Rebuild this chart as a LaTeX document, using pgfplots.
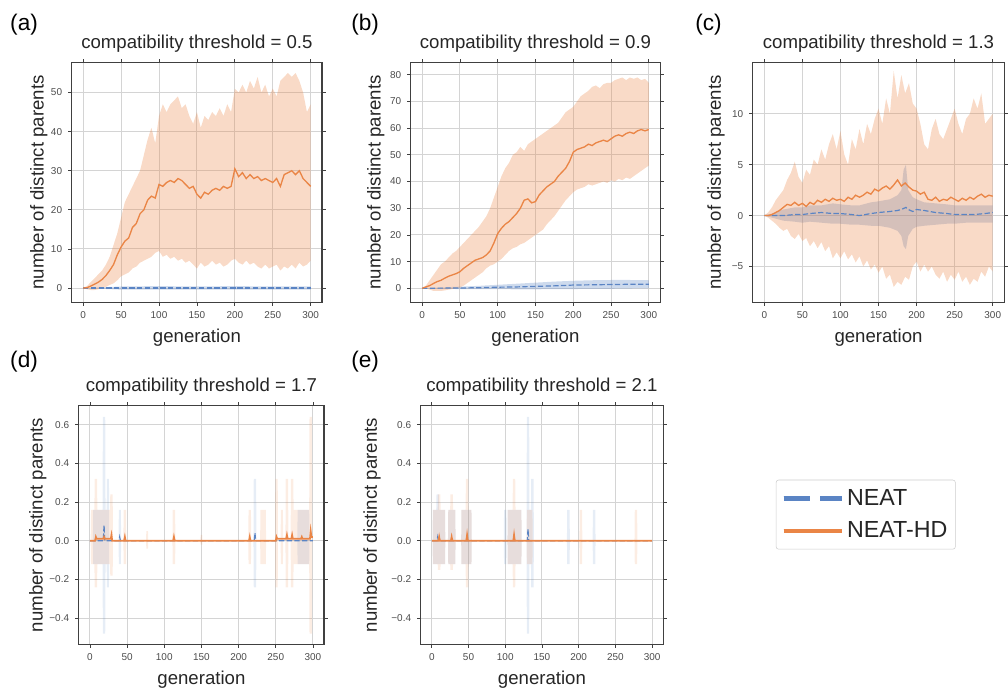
\documentclass[border=0pt]{standalone}
\usepackage{fontspec}
\setmainfont{Liberation Sans}
\usepackage{pgfplots}
\pgfplotsset{compat=1.18}
\usepackage{pgfplotstable}
\usepgfplotslibrary{fillbetween}

\definecolor{cB}{HTML}{5A84C4}
\definecolor{cO}{HTML}{EA8546}

% ---- panel (a): threshold 0.5 ----
\pgfplotstableread{
x m hi lo
0 0 0 0
5 0.1 0.5 -0.3
10 0.5 1.5 -0.5
15 1 2.5 -0.5
20 1.5 3.5 -0.3
25 2.2 4.5 0
30 3.2 6 0.3
35 4.5 8 0.8
40 6 11 1.2
45 8.5 14 2
50 10.5 18 3
55 12 22 3.5
60 12.8 24 4
65 15.5 26 5
70 16.5 28 5.5
75 19 30 6.5
80 20 34 7
85 22.5 38 7.5
90 23.5 41 8
95 23 37 9
100 26.5 44 9.5
105 26 47 8
110 27 45 8.5
115 27.5 47 7.5
120 27 48 8
125 28 49 7
130 27.5 46 7.5
135 26.5 47 6.5
140 25.5 44 7
145 26 42 6
150 24 45 5
155 23 41 6.5
160 24.5 44 5.5
165 24 43 6
170 25 45 7
175 25.5 44 6
180 25 46 6.5
185 26 44 5.5
190 25.5 47 6
195 26 45 7
200 30.5 51 7.5
205 28.5 50 6.5
210 29.5 52 6
215 28 50 7
220 29 53 6
225 28 51 6.5
230 28.5 54 5.5
235 27.5 50 5
240 28 52 6
245 27.5 49 5
250 27 51 5.5
255 28 49 6
260 26 53 4.5
265 29 54 5.5
270 29.5 55 5
275 30 54 6
280 29 55 5
285 30 53 6.5
290 28 50 5.5
295 27 45 6
300 26 47 7
}\aO
\pgfplotstableread{
x m hi lo
0 0 0 0
50 0 0.4 -0.4
100 0 0.5 -0.4
150 0 0.4 -0.4
200 0 0.5 -0.4
250 0 0.4 -0.4
300 0 0.4 -0.4
}\aB

% ---- panel (b): threshold 0.9 ----
\pgfplotstableread{
x m hi lo
0 0 0 0
5 0.5 1 0
10 1 3 -0.5
15 1.8 5 -1
20 2.5 7 -1
25 3 9 -1
30 3.8 10 -0.8
35 4.5 11.5 -0.5
40 5 13 -0.3
45 5.5 14 0
50 6.2 15.5 0.3
55 7.5 17 1
60 8.5 18.5 2
65 9.5 20 3
70 10.5 21.5 4
75 11 23 5
80 11.5 25 6
85 12.5 27 7.5
90 14 30 8.5
95 17 34 9
100 20.5 38 10
105 22.5 42 11
110 24 45 12.5
115 25 47 14
120 26.5 50 15
125 28 51 15.5
130 30 53 16.5
135 33 51.5 17
140 33.5 54 18
145 32 55 19
150 32.5 56 20
155 35 57 21
160 36.5 58 22
165 38 59 24
170 39 60 25.5
175 40 61 27
180 42 62 29
185 43.5 64 31
190 45 66 33
195 47.5 67 34.5
200 51 68 36
205 52 70 37
210 52.5 72 37.5
215 53 73 38
220 54 74 39
225 53.5 75.5 38.5
230 54.5 76 39
235 55 75 39.5
240 55.5 76.5 40
245 55 77 39.5
250 56 77 40.5
255 57 78 40
260 57.5 78.5 41
265 57 79 40.5
270 58 78 41.5
275 58.5 79 41
280 58 78.5 42
285 59 79 43
290 59.5 78 44
295 59 78.5 45
300 59.5 77 46
}\bO
\pgfplotstableread{
x m hi lo
0 0 0 0
25 0.05 0.3 -0.2
50 0.1 0.6 -0.3
75 0.2 0.9 -0.3
100 0.4 1.3 -0.3
125 0.5 1.7 -0.4
150 0.7 2.1 -0.4
175 0.9 2.5 -0.3
200 1.2 2.8 -0.3
225 1.3 3 -0.2
250 1.4 3.1 -0.2
275 1.5 3.1 -0.1
300 1.5 3 0
}\bB

% ---- panel (c): threshold 1.3 ----
\pgfplotstableread{
x m hi lo
0 0 0 0
5 0 0.3 -0.2
10 0.1 0.8 -0.5
15 0.3 1.5 -0.8
20 0.5 2 -1.2
25 0.8 2.5 -1.5
30 1.1 3.5 -1.3
35 1.0 4.2 -2
40 1.3 5.3 -2.3
45 1.0 3.8 -1.8
50 1.2 3.2 -2.5
55 0.9 4.5 -2.2
60 1.3 4 -3
65 1.1 5.5 -2.5
70 1.5 5 -3.2
75 1.3 6.5 -2.6
80 1.6 5.5 -3.5
85 1.4 7 -3
90 1.7 8 -4.2
95 1.5 6.5 -3.6
100 1.6 8.3 -4.2
105 1.4 6 -3.5
110 1.8 5 -4.3
115 1.6 7.5 -3.8
120 2.0 6.5 -4.6
125 1.8 8.5 -4
130 2.0 7 -5
135 2.3 9 -4.4
140 2.1 8 -5.3
145 2.6 9.5 -4.8
150 2.4 10.5 -5.6
155 2.7 9 -5
160 2.9 11.5 -6.2
165 2.6 10 -5.8
170 3.0 14.2 -7
175 3.5 11.5 -6.5
180 2.9 13.8 -6.8
185 3.2 12 -6
190 2.8 13 -6.3
195 2.5 11 -5
200 2.4 10.5 -4.5
205 2.1 9 -5.5
210 2.3 7 -4.8
215 1.6 6.5 -5.5
220 1.5 8.5 -5
225 1.8 9.5 -5.8
230 1.4 8 -6.2
235 1.6 7.5 -5.5
240 1.5 8.5 -6.5
245 1.8 9.5 -5.8
250 1.6 10.5 -6.3
255 1.4 9 -5.5
260 1.7 8 -6.5
265 1.5 9.5 -6
270 1.8 10 -6.8
275 1.6 11.5 -6.2
280 1.9 10.5 -6.5
285 2.1 12 -5.5
290 1.8 9 -6
295 2.0 9.5 -5
300 1.9 10 -5.5
}\cO
\pgfplotstableread{
x m hi lo
0 0 0 0
10 0 0.2 -0.2
25 0 0.6 -0.5
40 0.1 0.8 -0.6
50 0.1 0.8 -0.7
60 0.2 1.0 -0.6
75 0.3 1.0 -0.7
90 0.2 1.2 -0.8
100 0.2 1.1 -0.8
115 0.1 1.0 -0.9
125 0 1.0 -0.9
140 0.2 1.3 -1.0
150 0.3 1.4 -1.0
165 0.4 1.6 -1.2
175 0.5 2.0 -1.5
180 0.6 2.5 -2.0
183 0.7 4.5 -3.0
186 0.8 5.0 -3.3
189 0.6 2.5 -2.0
195 0.4 1.8 -1.3
200 0.6 1.6 -1.1
210 0.5 1.3 -1.0
225 0.3 1.2 -0.9
240 0.2 1.1 -0.8
250 0.1 1.0 -0.8
265 0.1 1.0 -0.7
275 0.1 1.0 -0.7
290 0.2 1.0 -0.7
300 0.3 1.0 -0.7
}\cB

% ---- panel (d): threshold 1.7 ----
\pgfplotstableread{
x hi lo
0 0 0
1 0 0
1.5 0.16 -0.12
6 0.16 -0.12
6.4 0.32 -0.24
9.6 0.32 -0.24
10 0.16 -0.12
27 0.16 -0.12
27.4 0.24 -0.18
30.6 0.24 -0.18
31 0 0
45 0 0
45.4 0.16 -0.12
48.6 0.16 -0.12
49 0 0
75.5 0 0
75.9 0.05 -0.04
78.1 0.05 -0.04
78.5 0 0
111 0 0
111.4 0.16 -0.12
114.6 0.16 -0.12
115 0 0
148.5 0 0
148.9 0.03 -0.02
151.1 0.03 -0.02
151.5 0 0
213 0 0
213.4 0.16 -0.12
216.6 0.16 -0.12
217 0 0
229 0 0
229.4 0.16 -0.12
236.6 0.16 -0.12
237 0 0
249 0 0
249.4 0.32 -0.24
252.6 0.32 -0.24
253 0 0
256.5 0 0
256.9 0.16 -0.12
259.6 0.16 -0.12
260 0 0
263 0 0
263.4 0.32 -0.24
266.6 0.32 -0.24
267 0 0
270 0 0
270.4 0.32 -0.24
273.6 0.32 -0.24
274 0.16 -0.12
295 0.16 -0.12
295.4 0.64 -0.48
298.6 0.64 -0.48
299 0 0
300 0 0
}\dOb
\pgfplotstableread{
x hi lo
0 0 0
4 0 0
4.4 0.16 -0.12
17 0.16 -0.12
17.4 0.64 -0.48
20.6 0.64 -0.48
21 0.16 -0.12
22.5 0.16 -0.12
22.9 0.32 -0.24
25.6 0.32 -0.24
26 0 0
38.5 0 0
38.9 0.16 -0.12
41.6 0.16 -0.12
42 0 0
220 0 0
220.4 0.32 -0.24
223.6 0.32 -0.24
224 0 0
279 0 0
279.4 0.16 -0.12
295 0.16 -0.12
295.4 0 0
300 0 0
}\dBb
\pgfplotstableread{
x m
0 0
7 0
8 0.02
9 0.01
18 0.01
19 0.02
20 0.01
28 0.01
29 0.03
30 0
46 0
47 0.02
48 0
112 0
113 0.02
114 0
214 0
215 0.02
216 0
250 0
251 0.02
252 0.01
264 0.01
265 0.03
266 0.01
271 0.01
272 0.03
273 0.01
284 0.01
285 0.02
286 0.01
296 0.01
297 0.05
298 0.02
300 0.02
}\dOm
\pgfplotstableread{
x m
0 0
18 0
19 0.08
20 0
39 0
40 0.02
41 0
221 0
222 0.04
223 0
300 0
}\dBm

% ---- panel (e): threshold 2.1 ----
\pgfplotstableread{
x hi lo
0 0 0
1 0 0
1.4 0.16 -0.12
8 0.16 -0.12
8.4 0.24 -0.15
11.6 0.24 -0.15
12 0.16 -0.12
18 0.16 -0.12
18.4 0 0
22 0 0
22.4 0.16 -0.12
25 0.16 -0.12
25.4 0.24 -0.15
28.6 0.24 -0.15
29 0.16 -0.12
32 0.16 -0.12
32.4 0 0
40 0 0
40.4 0.16 -0.12
46 0.16 -0.12
46.4 0.32 -0.24
49.6 0.32 -0.24
50 0.16 -0.12
54 0.16 -0.12
54.4 0 0
103 0 0
103.4 0.16 -0.12
110 0.16 -0.12
110.4 0.32 -0.24
113.6 0.32 -0.24
114 0.16 -0.12
122 0.16 -0.12
122.4 0 0
129 0 0
129.4 0.16 -0.12
137 0.16 -0.12
137.4 0 0
201 0 0
201.4 0.16 -0.12
204.6 0.16 -0.12
205 0 0
276 0 0
276.4 0.16 -0.12
279.6 0.16 -0.12
280 0 0
300 0 0
}\eOb
\pgfplotstableread{
x hi lo
0 0 0
1 0 0
1.4 0.16 -0.12
6 0.16 -0.12
6.4 0.24 -0.12
9.6 0.24 -0.12
10 0.16 -0.12
18 0.16 -0.12
18.4 0 0
22 0 0
22.4 0.16 -0.12
32 0.16 -0.12
32.4 0 0
40 0 0
40.4 0.16 -0.12
54 0.16 -0.12
54.4 0 0
98 0 0
98.4 0.16 -0.12
101.6 0.16 -0.12
102 0 0
103 0 0
103.4 0.16 -0.12
122 0.16 -0.12
122.4 0 0
129 0 0
129.4 0.64 -0.48
132.6 0.64 -0.48
133 0.16 -0.12
135 0.16 -0.12
135.4 0.32 -0.24
138.6 0.32 -0.24
139 0 0
184 0 0
184.4 0.16 -0.12
187.6 0.16 -0.12
188 0 0
219 0 0
219.4 0.16 -0.12
222.6 0.16 -0.12
223 0 0
300 0 0
}\eBb
\pgfplotstableread{
x m
0 0
9 0
10 0.02
11 0
26 0
27 0.02
28 0
47 0
48 0.03
49 0
111 0
112 0.03
113 0
300 0
}\eOm
\pgfplotstableread{
x m
0 0
7 0
8 0.02
9 0
130 0
131 0.06
132 0
300 0
}\eBm

\pgfplotsset{
  panel/.style={
    scale only axis,
    anchor=north west,
    xmin=-15, xmax=315,
    xtick={0,50,...,300},
    xticklabels={0,50,100,150,200,250,300},
    grid=major,
    major grid style={draw=black!17, line width=0.7pt},
    axis line style={draw=black!75, line width=0.9pt},
    tick align=outside,
    major tick length=2.6pt,
    tick style={draw=black!75, line width=0.6pt},
    ticklabel style={font=\fontsize{7.5}{9}\selectfont, text=black!70},
    xticklabel style={anchor=base, yshift=-10pt},
    yticklabel style={anchor=east, inner sep=0pt, xshift=-4.5pt},
    title style={at={(0.5,1)}, anchor=base, yshift=5pt,
      font=\fontsize{14}{16}\selectfont, text=black!85},
    xlabel={generation},
    ylabel={number of distinct parents},
    label style={font=\fontsize{14}{16}\selectfont, text=black!85},
    xlabel style={at={(axis description cs:0.5,0)}, anchor=base, yshift=-30pt},
  },
  band/.style={draw=none, fill=#1, fill opacity=0.3},
  sband/.style={draw=none, fill=#1, fill opacity=0.15},
  mO/.style={cO, line width=1pt},
  mB/.style={cB, line width=0.9pt, dash pattern=on 4pt off 1.8pt},
}

\begin{document}
\begin{tikzpicture}
\path (0,0) rectangle (756pt,-519.75pt);

\node[anchor=west, inner sep=0pt, font=\fontsize{17}{20}\selectfont] at (7.5pt,-18.75pt) {(a)};
\node[anchor=west, inner sep=0pt, font=\fontsize{17}{20}\selectfont] at (264pt,-18.75pt) {(b)};
\node[anchor=west, inner sep=0pt, font=\fontsize{17}{20}\selectfont] at (522.75pt,-18.75pt) {(c)};
\node[anchor=west, inner sep=0pt, font=\fontsize{17}{20}\selectfont] at (7.5pt,-272.25pt) {(d)};
\node[anchor=west, inner sep=0pt, font=\fontsize{17}{20}\selectfont] at (264pt,-272.25pt) {(e)};

% (a)
\begin{axis}[panel, at={(54pt,-47.25pt)}, width=188.25pt, height=180pt,
  ymin=-3.6, ymax=57.6, ytick={0,10,...,50},
  yticklabels={0,10,20,30,40,50},
  title={compatibility threshold = 0.5},
  ylabel style={at={(axis description cs:-0.1315,0.5)}, anchor=center}]
  \addplot[name path=abh, draw=none] table[x=x,y=hi]{\aB};
  \addplot[name path=abl, draw=none] table[x=x,y=lo]{\aB};
  \addplot[band=cB] fill between[of=abh and abl];
  \addplot[name path=aoh, draw=none] table[x=x,y=hi]{\aO};
  \addplot[name path=aol, draw=none] table[x=x,y=lo]{\aO};
  \addplot[band=cO] fill between[of=aoh and aol];
  \addplot[mB] table[x=x,y=m]{\aB};
  \addplot[mO] table[x=x,y=m]{\aO};
\end{axis}

% (b)
\begin{axis}[panel, at={(309pt,-47.25pt)}, width=187.5pt, height=180pt,
  ymin=-5.2, ymax=84.5, ytick={0,10,...,80},
  yticklabels={0,10,20,30,40,50,60,70,80},
  title={compatibility threshold = 0.9},
  ylabel style={at={(axis description cs:-0.14,0.5)}, anchor=center}]
  \addplot[name path=bbh, draw=none] table[x=x,y=hi]{\bB};
  \addplot[name path=bbl, draw=none] table[x=x,y=lo]{\bB};
  \addplot[band=cB] fill between[of=bbh and bbl];
  \addplot[name path=boh, draw=none] table[x=x,y=hi]{\bO};
  \addplot[name path=bol, draw=none] table[x=x,y=lo]{\bO};
  \addplot[band=cO] fill between[of=boh and bol];
  \addplot[mB] table[x=x,y=m]{\bB};
  \addplot[mO] table[x=x,y=m]{\bO};
\end{axis}

% (c)
\begin{axis}[panel, at={(566.25pt,-47.25pt)}, width=189pt, height=180pt,
  ymin=-8.5, ymax=15, ytick={-5,0,5,10},
  yticklabels={−5,0,5,10},
  title={compatibility threshold = 1.3},
  ylabel style={at={(axis description cs:-0.1468,0.5)}, anchor=center}]
  \addplot[name path=cbh, draw=none] table[x=x,y=hi]{\cB};
  \addplot[name path=cbl, draw=none] table[x=x,y=lo]{\cB};
  \addplot[band=cB] fill between[of=cbh and cbl];
  \addplot[name path=coh, draw=none] table[x=x,y=hi]{\cO};
  \addplot[name path=col, draw=none] table[x=x,y=lo]{\cO};
  \addplot[band=cO] fill between[of=coh and col];
  \addplot[mB] table[x=x,y=m]{\cB};
  \addplot[mO] table[x=x,y=m]{\cO};
\end{axis}

% (d)
\begin{axis}[panel, at={(59.25pt,-305.25pt)}, width=184.5pt, height=179.25pt,
  ymin=-0.534, ymax=0.697, ytick={-0.4,-0.2,0,0.2,0.4,0.6},
  yticklabels={−0.4,−0.2,0.0,0.2,0.4,0.6},
  title={compatibility threshold = 1.7},
  ylabel style={at={(axis description cs:-0.1667,0.5)}, anchor=center}]
  \addplot[name path=dbh, draw=none] table[x=x,y=hi]{\dBb};
  \addplot[name path=dbl, draw=none] table[x=x,y=lo]{\dBb};
  \addplot[sband=cB] fill between[of=dbh and dbl];
  \addplot[name path=doh, draw=none] table[x=x,y=hi]{\dOb};
  \addplot[name path=dol, draw=none] table[x=x,y=lo]{\dOb};
  \addplot[sband=cO] fill between[of=doh and dol];
  \addplot[mB] table[x=x,y=m]{\dBm};
  \addplot[mO, line width=1.3pt] table[x=x,y=m]{\dOm};
\end{axis}

% (e) with the legend
\begin{axis}[panel, at={(316.5pt,-305.25pt)}, width=182.25pt, height=179.25pt,
  ymin=-0.534, ymax=0.697, ytick={-0.4,-0.2,0,0.2,0.4,0.6},
  yticklabels={−0.4,−0.2,0.0,0.2,0.4,0.6},
  title={compatibility threshold = 2.1},
  ylabel style={at={(axis description cs:-0.2016,0.5)}, anchor=center},
  legend style={at={(1.465,0.690)}, anchor=north west, draw=black!20,
    rounded corners=2pt, font=\fontsize{17.5}{20}\selectfont,
    inner xsep=4pt, inner ysep=5pt, row sep=7pt, text=black!85},
  legend cell align=left,
  legend image code/.code={\draw[#1] (0pt,0pt) -- (38pt,0pt);
    \path (0pt,0pt) -- (44pt,0pt);}]
  \addlegendimage{cB, line width=3.4pt, dash pattern=on 20pt off 7.5pt}
  \addlegendentry{NEAT}
  \addlegendimage{cO, line width=3.4pt}
  \addlegendentry{NEAT-HD}
  \addplot[name path=ebh, draw=none, forget plot] table[x=x,y=hi]{\eBb};
  \addplot[name path=ebl, draw=none, forget plot] table[x=x,y=lo]{\eBb};
  \addplot[sband=cB, forget plot] fill between[of=ebh and ebl];
  \addplot[name path=eoh, draw=none, forget plot] table[x=x,y=hi]{\eOb};
  \addplot[name path=eol, draw=none, forget plot] table[x=x,y=lo]{\eOb};
  \addplot[sband=cO, forget plot] fill between[of=eoh and eol];
  \addplot[mB, forget plot] table[x=x,y=m]{\eBm};
  \addplot[mO, line width=1.3pt, forget plot] table[x=x,y=m]{\eOm};
\end{axis}
\end{tikzpicture}
\end{document}
